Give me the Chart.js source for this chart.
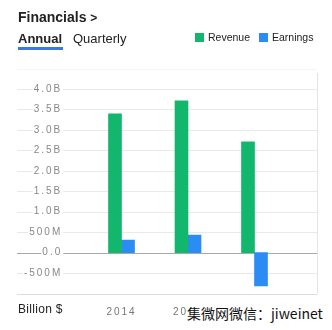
<!DOCTYPE html>
<html>
<head>
<meta charset="utf-8">
<script src="https://cdn.jsdelivr.net/npm/chart.js@4.4.1/dist/chart.umd.min.js"></script>
<style>
  body { margin: 0; background: #fff; width: 332px; height: 330px; overflow: hidden; position: relative;
         font-family: "Liberation Sans", Arial, sans-serif; color: #222; }
  #chart { position: absolute; left: 0; top: 0; }
  .txt { position: absolute; white-space: nowrap; line-height: 1; }
  .sq { position: absolute; width: 9px; height: 9px; }
</style>
</head>
<body>
<canvas id="chart" width="332" height="330"></canvas>

<div class="txt" style="left:18px; top:10px; font-size:14px; font-weight:bold;">Financials <span style="font-size:12px;">&gt;</span></div>
<div class="txt" style="left:18px; top:32px; font-size:13px; font-weight:bold;">Annual</div>
<div style="position:absolute; left:18px; top:47px; width:45px; height:2.5px; background:#3b78e7;"></div>
<div class="txt" style="left:73px; top:32px; font-size:13px;">Quarterly</div>

<div class="sq" style="left:195px; top:33px; background:#12b76d;"></div>
<div class="txt" style="left:208px; top:32px; font-size:10.5px;">Revenue</div>
<div class="sq" style="left:259px; top:33px; background:#2b8cf4;"></div>
<div class="txt" style="left:272px; top:32px; font-size:10.5px;">Earnings</div>

<div class="txt" style="left:18px; top:303px; font-size:12px; letter-spacing:0.3px;">Billion $</div>

<div class="txt" style="left:186px; top:298px; width:146px; height:32px; background:#fff;"></div>
<div class="txt" style="left:187px; top:306px; font-size:14px; font-family:'Noto Sans CJK SC', sans-serif; color:#111;">集微网微信：jiweinet</div>

<script>
// values
var years = ['2014', '2015', '2016'];
var revenue = [3.39e9, 3.71e9, 2.71e9];
var earnings = [0.31e9, 0.43e9, -0.81e9];
var yMin = -1e9, yMax = 4.5e9, yStep = 0.5e9;

function fmt(v) {
    if (v === yMin || v === yMax) return '';
    if (v === 0) return '0.0';
    if (Math.abs(v) >= 1e9) return (v / 1e9).toFixed(1) + 'B';
    return Math.round(v / 1e6) + 'M';
}

// grid lines run under the tick labels, across the whole panel
var gridPlugin = {
    id: 'panelGrid',
    beforeUpdate: function (chart) { chart.ctx.letterSpacing = '2px'; },
    beforeDraw: function (chart) {
        var ctx = chart.ctx;
        var y = chart.scales.y;
        ctx.save();
        ctx.lineWidth = 1;
        y.ticks.forEach(function (t) {
            var py = Math.round(y.getPixelForValue(t.value)) + 0.5;
            var col = '#e9e9e9';
            if (t.value === 0) col = '#a8a8a8';
            else if (t.value === yMin) col = '#dcdcdc';
            else if (t.value === yMax) col = '#f5f5f5';
            ctx.strokeStyle = col;
            ctx.beginPath();
            ctx.moveTo(17, py);
            ctx.lineTo(317, py);
            ctx.stroke();
        });
        ctx.strokeStyle = '#e4e4e4';
        ctx.beginPath();
        ctx.moveTo(317.5, 73);
        ctx.lineTo(317.5, Math.round(y.getPixelForValue(yMin)));
        ctx.stroke();
        ctx.restore();
        ctx.letterSpacing = '2px';
    }
};

var tickFont = { family: '"Liberation Sans", Arial, sans-serif', size: 10 };

new Chart(document.getElementById('chart'), {
    type: 'bar',
    data: {
        labels: years,
        datasets: [{
            label: 'Revenue',
            data: revenue,
            backgroundColor: '#12b76d',
            barThickness: 13,
            categoryPercentage: 0.541
        }, {
            label: 'Earnings',
            data: earnings,
            backgroundColor: '#2b8cf4',
            barThickness: 13,
            categoryPercentage: 0.541
        }]
    },
    options: {
        responsive: false,
        animation: false,
        layout: { padding: { top: 68.5, right: 44.25, left: 0, bottom: 0 } },
        plugins: { legend: { display: false }, tooltip: { enabled: false } },
        scales: {
            x: {
                grid: { display: false, drawTicks: false },
                border: { display: false },
                ticks: { color: '#777', font: tickFont, padding: 13, maxRotation: 0 },
                afterFit: function (s) { s.height = 36.4; }
            },
            y: {
                min: yMin,
                max: yMax,
                grid: { display: false, drawTicks: false },
                border: { display: false },
                ticks: {
                    stepSize: yStep,
                    callback: fmt,
                    color: '#888',
                    font: tickFont,
                    padding: 26,
                    showLabelBackdrop: true,
                    backdropColor: function (c) { return c.tick && c.tick.label ? '#fff' : 'rgba(0,0,0,0)'; },
                    backdropPadding: { x: 1, y: 0 }
                },
                afterFit: function (s) { s.width = 88.25; }
            }
        }
    },
    plugins: [gridPlugin]
});
</script>
</body>
</html>
